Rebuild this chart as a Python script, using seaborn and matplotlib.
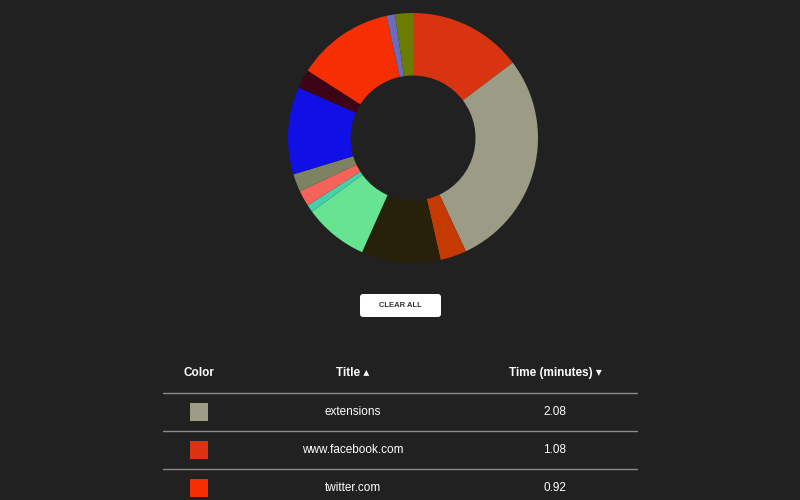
import matplotlib.pyplot as plt
from matplotlib.patches import FancyBboxPatch
import seaborn as sns

sns.set_theme(style="dark")
plt.rcParams['font.family'] = ['Liberation Sans', 'DejaVu Sans']

# slices clockwise from 12 o'clock (minutes)
slice_values = [1.08, 2.08, 0.25, 0.75, 0.61, 0.07, 0.15, 0.17, 0.83, 0.18, 0.92, 0.08, 0.17]
slice_colors = ['#d83411', '#9c9c86', '#c43a02', '#27200b', '#66e491', '#43d0aa',
                '#f7625a', '#7d8362', '#1010e6', '#3d0317', '#f52f02', '#6c6cbc', '#6a7c04']

row_titles = ['extensions', 'www.facebook.com', 'twitter.com']
row_times = [2.08, 1.08, 0.92]
row_colors = ['#9c9c86', '#d83411', '#f52f02']

bg = '#212121'
fig = plt.figure(figsize=(8, 5), dpi=100, facecolor=bg)

# donut
ax = fig.add_axes([413/800 - 125/800, 1 - (138 + 125)/500, 250/800, 250/500])
ax.pie(slice_values, colors=slice_colors, startangle=90, counterclock=False,
       wedgeprops=dict(width=0.5, linewidth=0))
ax.set_xlim(-1, 1)
ax.set_ylim(-1, 1)
ax.set_aspect('equal')
ax.axis('off')

# overlay for button + table, pixel coordinates
ov = fig.add_axes([0, 0, 1, 1], facecolor='none')
ov.set_xlim(0, 800)
ov.set_ylim(500, 0)
ov.axis('off')

ov.add_patch(FancyBboxPatch((360, 294), 81, 23, boxstyle='round,pad=0,rounding_size=3',
                            fc='white', ec='none'))
ov.text(400, 305.5, 'CLEAR ALL', color='#333333', fontsize=5.5, fontweight='bold',
        ha='center', va='center')

ov.text(199, 373, 'Color', color='white', fontsize=8.5, fontweight='bold', ha='center', va='center')
ov.text(353, 373, 'Title ▴', color='white', fontsize=8.5, fontweight='bold', ha='center', va='center')
ov.text(555, 373, 'Time (minutes) ▾', color='white', fontsize=8.5, fontweight='bold',
        ha='center', va='center')

lines_y = [393, 431, 469]
for y in lines_y:
    ov.plot([163, 637], [y, y], color='#8a8a8a', lw=1)

for i, (t, v, c) in enumerate(zip(row_titles, row_times, row_colors)):
    yc = 412 + 38 * i
    ov.add_patch(plt.Rectangle((190, yc - 9), 18, 18, fc=c, ec='none'))
    ov.text(353, yc, t, color='white', fontsize=8.5, ha='center', va='center')
    ov.text(555, yc, f'{v:.2f}', color='white', fontsize=8.5, ha='center', va='center')

fig.savefig('out.png', facecolor=bg)
